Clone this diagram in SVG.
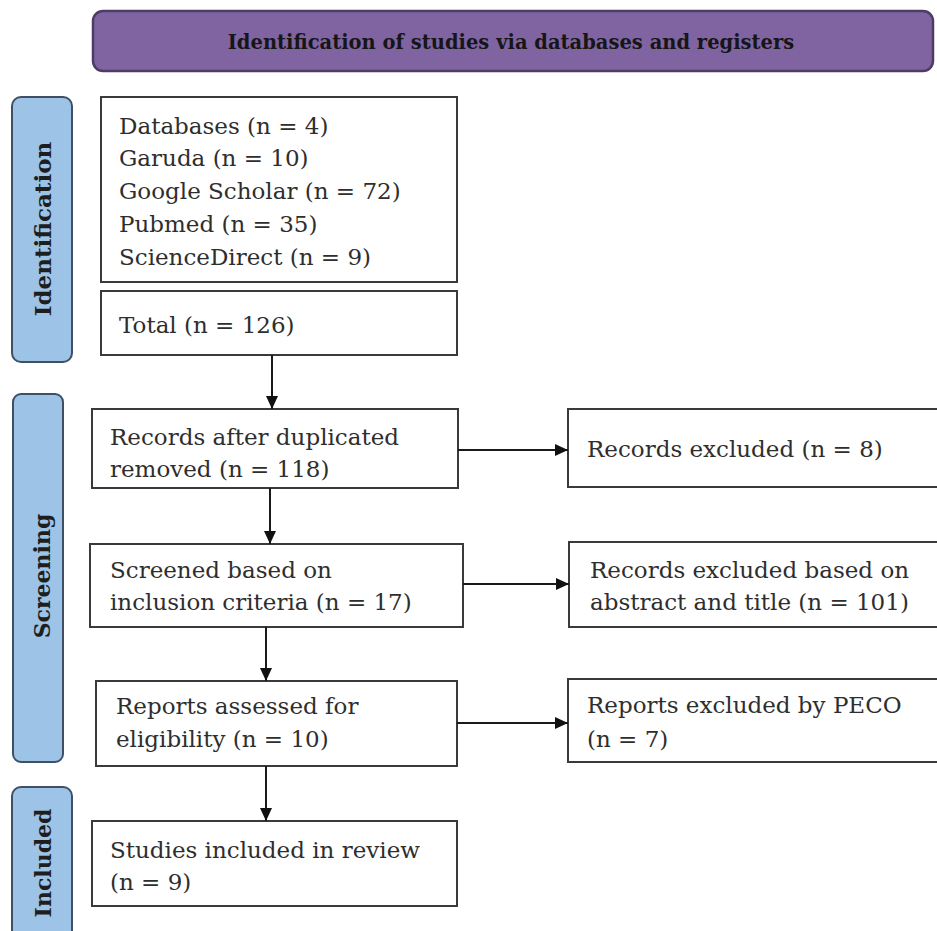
<svg xmlns="http://www.w3.org/2000/svg" width="937" height="931" viewBox="0 0 937 931">
<style>
.box{fill:#fff;stroke:#3a3a3a;stroke-width:2}
.side{fill:#9dc3e6;stroke:#3e4f66;stroke-width:2}
.t{font-family:"DejaVu Serif","Liberation Serif",serif;font-size:23px;fill:#2e2e2e}
.sl{font-family:"DejaVu Serif","Liberation Serif",serif;font-size:22px;font-weight:bold;fill:#1e1e1e}
.h{font-family:"DejaVu Serif","Liberation Serif",serif;font-size:19.5px;font-weight:bold;fill:#161616}
.c{stroke:#1a1a1a;stroke-width:2;fill:none}
</style>
<defs>
<marker id="ah" markerUnits="userSpaceOnUse" markerWidth="14" markerHeight="14" viewBox="0 0 14 14" refX="13" refY="7" orient="auto">
<path d="M0,1 L13,7 L0,13 Z" fill="#111"/>
</marker>
</defs>
<rect width="937" height="931" fill="#fff"/>
<g id="header">
<rect x="93" y="11" width="840" height="60" rx="10" fill="#8064a2" stroke="#4e3c66" stroke-width="2.5"/>
<text class="h" x="511" y="49" text-anchor="middle">Identification of studies via databases and registers</text>
</g>
<g id="phase-identification">
<rect class="side" x="12" y="97" width="60" height="265" rx="9"/>
<text class="sl" transform="translate(51,229) rotate(-90)" text-anchor="middle" style="font-size:23px">Identification</text>
</g>
<g id="phase-screening">
<rect class="side" x="13" y="394" width="50" height="368" rx="8"/>
<text class="sl" transform="translate(50,576) rotate(-90)" text-anchor="middle">Screening</text>
</g>
<g id="phase-included">
<rect class="side" x="12" y="787" width="60" height="160" rx="9"/>
<text class="sl" transform="translate(51,863) rotate(-90)" text-anchor="middle">Included</text>
</g>
<g id="databases">
<rect class="box" x="101" y="97" width="356" height="185"/>
<text class="t" x="119" y="134">Databases (n = 4)</text>
<text class="t" x="119" y="166">Garuda (n = 10)</text>
<text class="t" x="119" y="199">Google Scholar (n = 72)</text>
<text class="t" x="119" y="232">Pubmed (n = 35)</text>
<text class="t" x="119" y="265">ScienceDirect (n = 9)</text>
</g>
<g id="total">
<rect class="box" x="101" y="291" width="356" height="64"/>
<text class="t" x="119" y="333">Total (n = 126)</text>
</g>
<g id="records-after">
<rect class="box" x="92" y="409" width="366" height="79"/>
<text class="t" x="110" y="445">Records after duplicated</text>
<text class="t" x="110" y="477">removed (n = 118)</text>
</g>
<g id="screened">
<rect class="box" x="90" y="544" width="373" height="83"/>
<text class="t" x="110" y="578">Screened based on</text>
<text class="t" x="110" y="610">inclusion criteria (n = 17)</text>
</g>
<g id="reports">
<rect class="box" x="96" y="681" width="361" height="85"/>
<text class="t" x="116" y="714">Reports assessed for</text>
<text class="t" x="116" y="747">eligibility (n = 10)</text>
</g>
<g id="studies">
<rect class="box" x="92" y="821" width="365" height="85"/>
<text class="t" x="110" y="858">Studies included in review</text>
<text class="t" x="110" y="890">(n = 9)</text>
</g>
<g id="excluded1">
<rect class="box" x="568" y="409" width="380" height="78"/>
<text class="t" x="587" y="457">Records excluded (n = 8)</text>
</g>
<g id="excluded2">
<rect class="box" x="569" y="542" width="380" height="85"/>
<text class="t" x="590" y="578">Records excluded based on</text>
<text class="t" x="590" y="610">abstract and title (n = 101)</text>
</g>
<g id="excluded3">
<rect class="box" x="568" y="679" width="380" height="83"/>
<text class="t" x="587" y="713">Reports excluded by PECO</text>
<text class="t" x="587" y="747">(n = 7)</text>
</g>
<g id="connectors">
<path class="c" d="M272,355 L272,409" marker-end="url(#ah)"/>
<path class="c" d="M270,488 L270,544" marker-end="url(#ah)"/>
<path class="c" d="M266,627 L266,681" marker-end="url(#ah)"/>
<path class="c" d="M266,766 L266,821" marker-end="url(#ah)"/>
<path class="c" d="M458,450 L568,450" marker-end="url(#ah)"/>
<path class="c" d="M463,584 L569,584" marker-end="url(#ah)"/>
<path class="c" d="M457,723 L568,723" marker-end="url(#ah)"/>
</g>
</svg>
